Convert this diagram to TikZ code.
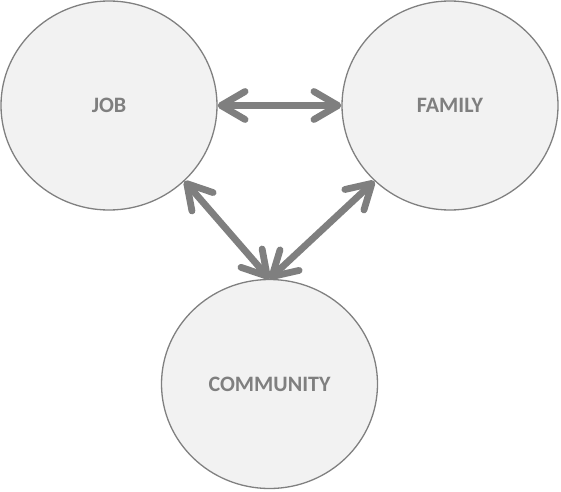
\documentclass[tikz,border=0pt]{standalone}
\usepackage{fontspec}
\setmainfont{Carlito}
\usetikzlibrary{shapes.geometric,arrows.meta}
\definecolor{circfill}{HTML}{F2F2F2}
\definecolor{circline}{HTML}{808080}
\definecolor{txtgray}{HTML}{7F7F7F}
\definecolor{arrgray}{HTML}{7F7F7F}
\tikzset{
  circ/.style={ellipse, draw=circline, fill=circfill, line width=1.3pt,
    minimum width=216pt, minimum height=209pt, inner sep=0pt,
    font=\fontsize{22}{26}\selectfont\bfseries, text=txtgray},
  arr/.style={draw=arrgray, line width=6.8pt,
    {Straight Barb[length=24pt,width=28pt,round]}-{Straight Barb[length=24pt,width=28pt,round]}}
}
\begin{document}
\begin{tikzpicture}[x=1pt,y=1pt]
\useasboundingbox (0,0) rectangle (561,491);
\node[circ] (job) at (109,385.5) {JOB};
\node[circ] (family) at (450,385.5) {FAMILY};
\node[circ] (comm) at (269.5,107) {COMMUNITY};
\draw[arr] (job.east) -- (family.west);
\draw[arr] (job.315) -- (comm.north);
\draw[arr] (family.225) -- (comm.north);
\end{tikzpicture}
\end{document}
